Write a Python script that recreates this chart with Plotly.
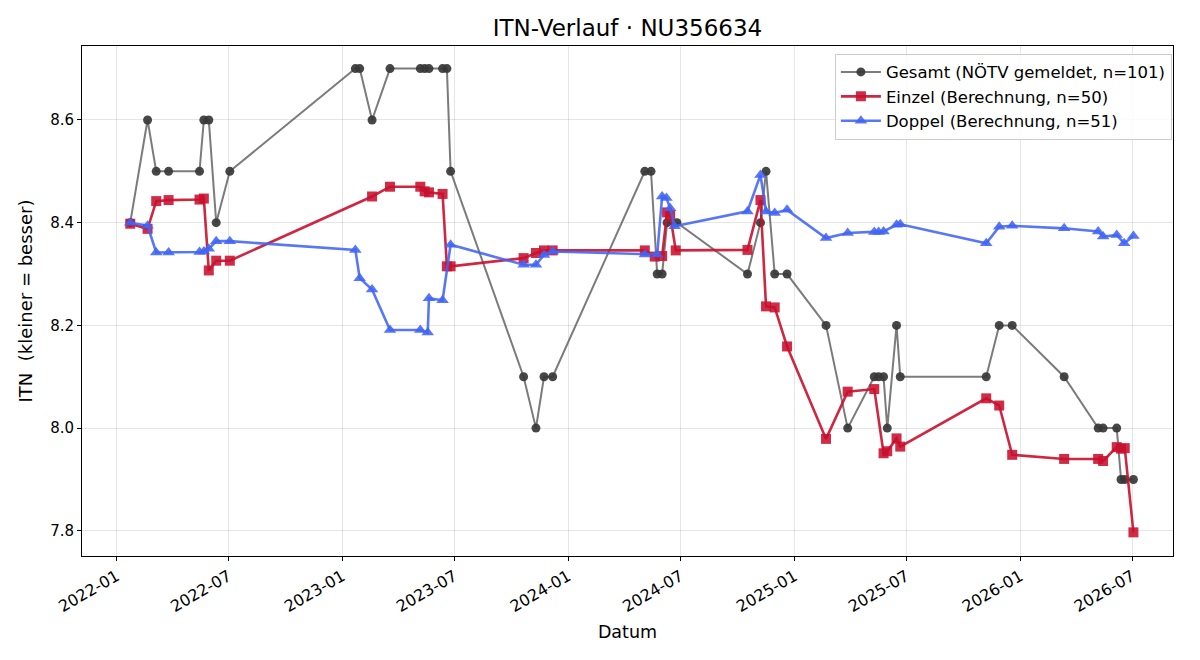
import plotly.graph_objects as go

# --- Data -------------------------------------------------------------
gesamt_dates = [
    "2022-01-23", "2022-02-20", "2022-03-06", "2022-03-26", "2022-05-15", "2022-05-22",
    "2022-05-30", "2022-06-11", "2022-07-03", "2023-01-22", "2023-01-29", "2023-02-18",
    "2023-03-19", "2023-05-07", "2023-05-14", "2023-05-21", "2023-06-12", "2023-06-19",
    "2023-06-25", "2023-10-21", "2023-11-10", "2023-11-23", "2023-12-07", "2024-05-04",
    "2024-05-14", "2024-05-24", "2024-06-01", "2024-06-09", "2024-06-25", "2024-10-17",
    "2024-11-07", "2024-11-16", "2024-11-30", "2024-12-20", "2025-02-21", "2025-03-28",
    "2025-05-10", "2025-05-17", "2025-05-25", "2025-05-31", "2025-06-15", "2025-06-21",
    "2025-11-07", "2025-11-28", "2025-12-19", "2026-03-13", "2026-05-07", "2026-05-15",
    "2026-06-06", "2026-06-13", "2026-06-19", "2026-07-03",
]
gesamt_vals = [
    8.4, 8.6, 8.5, 8.5, 8.5, 8.6,
    8.6, 8.4, 8.5, 8.7, 8.7, 8.6,
    8.7, 8.7, 8.7, 8.7, 8.7, 8.7,
    8.5, 8.1, 8.0, 8.1, 8.1, 8.5,
    8.5, 8.3, 8.3, 8.4, 8.4, 8.3,
    8.4, 8.5, 8.3, 8.3, 8.2, 8.0,
    8.1, 8.1, 8.1, 8.0, 8.2, 8.1,
    8.1, 8.2, 8.2, 8.1, 8.0, 8.0,
    8.0, 7.9, 7.9, 7.9,
]

einzel_dates = [
    "2022-01-23", "2022-02-20", "2022-03-06", "2022-03-26", "2022-05-15", "2022-05-22",
    "2022-05-30", "2022-06-11", "2022-07-03", "2023-02-18", "2023-03-19", "2023-05-07",
    "2023-05-14", "2023-05-21", "2023-06-12", "2023-06-19", "2023-06-25", "2023-10-21",
    "2023-11-10", "2023-11-23", "2023-12-07", "2024-05-04", "2024-05-20", "2024-06-01",
    "2024-06-09", "2024-06-14", "2024-06-23", "2024-10-17", "2024-11-07", "2024-11-16",
    "2024-11-30", "2024-12-20", "2025-02-21", "2025-03-28", "2025-05-10", "2025-05-25",
    "2025-05-31", "2025-06-15", "2025-06-21", "2025-11-07", "2025-11-28", "2025-12-19",
    "2026-03-13", "2026-05-07", "2026-05-15", "2026-06-06", "2026-06-13", "2026-06-19",
    "2026-07-03",
]
einzel_vals = [
    8.398, 8.388, 8.442, 8.444, 8.445, 8.447,
    8.307, 8.326, 8.326, 8.451, 8.470, 8.470,
    8.461, 8.459, 8.456, 8.315, 8.315, 8.331,
    8.341, 8.346, 8.346, 8.346, 8.334, 8.335,
    8.420, 8.415, 8.346, 8.347, 8.444, 8.237,
    8.235, 8.159, 7.979, 8.071, 8.076, 7.951,
    7.955, 7.980, 7.964, 8.058, 8.044, 7.948,
    7.940, 7.940, 7.936, 7.963, 7.960, 7.961,
    7.797,
]

doppel_dates = [
    "2022-01-23", "2022-02-20", "2022-03-06", "2022-03-26", "2022-05-15", "2022-05-22",
    "2022-05-30", "2022-06-11", "2022-07-03", "2023-01-22", "2023-01-29", "2023-02-18",
    "2023-03-19", "2023-05-07", "2023-05-19", "2023-05-21", "2023-06-12", "2023-06-25",
    "2023-10-21", "2023-11-10", "2023-11-23", "2023-12-07", "2024-05-04", "2024-05-24",
    "2024-06-01", "2024-06-08", "2024-06-14", "2024-06-21", "2024-10-17", "2024-11-07",
    "2024-11-16", "2024-11-30", "2024-12-20", "2025-02-21", "2025-03-28", "2025-05-10",
    "2025-05-17", "2025-05-25", "2025-06-15", "2025-06-21", "2025-11-07", "2025-11-28",
    "2025-12-19", "2026-03-13", "2026-05-07", "2026-05-15", "2026-06-06", "2026-06-18",
    "2026-07-03",
]
doppel_vals = [
    8.400, 8.394, 8.342, 8.342, 8.343, 8.344,
    8.349, 8.364, 8.364, 8.347, 8.292, 8.270,
    8.191, 8.191, 8.186, 8.253, 8.249, 8.357,
    8.318, 8.318, 8.337, 8.344, 8.338, 8.338,
    8.451, 8.448, 8.428, 8.393, 8.422, 8.493,
    8.422, 8.419, 8.425, 8.370, 8.380, 8.382,
    8.382, 8.383, 8.396, 8.397, 8.360, 8.392,
    8.394, 8.389, 8.383, 8.373, 8.376, 8.360,
    8.374,
]

y_ticks = [7.8, 8.0, 8.2, 8.4, 8.6]
x_ticks = ["2022-01-01", "2022-07-01", "2023-01-01", "2023-07-01", "2024-01-01",
           "2024-07-01", "2025-01-01", "2025-07-01", "2026-01-01", "2026-07-01"]
x_tick_labels = ["2022-01", "2022-07", "2023-01", "2023-07", "2024-01",
                 "2024-07", "2025-01", "2025-07", "2026-01", "2026-07"]

FONT = "DejaVu Sans"

fig = go.Figure()
fig.add_trace(go.Scatter(
    x=gesamt_dates, y=gesamt_vals, mode="lines+markers",
    name="Gesamt (NÖTV gemeldet, n=101)",
    line=dict(color="rgba(90,90,90,0.8)", width=2),
    marker=dict(symbol="circle", size=9, color="rgba(55,55,55,0.92)"),
))
fig.add_trace(go.Scatter(
    x=einzel_dates, y=einzel_vals, mode="lines+markers",
    name="Einzel (Berechnung, n=50)",
    line=dict(color="rgba(200,16,46,0.9)", width=2.6),
    marker=dict(symbol="square", size=10, color="rgba(200,16,46,0.88)"),
))
fig.add_trace(go.Scatter(
    x=doppel_dates, y=doppel_vals, mode="lines+markers",
    name="Doppel (Berechnung, n=51)",
    line=dict(color="rgba(65,100,245,0.88)", width=2.6),
    marker=dict(symbol="triangle-up", size=11, color="rgba(65,100,245,0.88)"),
))

fig.update_layout(
    width=1200, height=660,
    margin=dict(l=82, r=27, t=46, b=104),
    paper_bgcolor="white", plot_bgcolor="white",
    font=dict(family=FONT, size=14, color="black"),
    title=dict(text="ITN-Verlauf · NU356634", x=0.5, xanchor="center", xref="paper",
               y=1 - 28 / 660, yanchor="middle", font=dict(family=FONT, size=23, color="black")),
    legend=dict(x=0.999, y=0.985, xanchor="right", yanchor="top",
                bgcolor="rgba(255,255,255,0.85)", bordercolor="#cccccc", borderwidth=1,
                font=dict(family=FONT, size=16.5), tracegroupgap=0, itemwidth=40),
    showlegend=True,
)
fig.update_xaxes(
    type="date", range=["2021-11-06", "2026-09-05"],
    tickmode="array", tickvals=x_ticks, ticktext=x_tick_labels, tickangle=-30,
    ticks="outside", ticklen=4, tickcolor="black", tickfont=dict(size=16),
    showgrid=True, gridcolor="rgba(0,0,0,0.1)", gridwidth=1,
    showline=True, linecolor="black", linewidth=1, mirror=True, zeroline=False,
    title=dict(text="Datum", font=dict(size=17.5), standoff=10),
)
fig.update_yaxes(
    range=[7.751, 8.744], tickmode="array", tickvals=y_ticks,
    ticktext=[f"{v:.1f}" for v in y_ticks],
    ticks="outside", ticklen=4, tickcolor="black", tickfont=dict(size=15),
    showgrid=True, gridcolor="rgba(0,0,0,0.1)", gridwidth=1,
    showline=True, linecolor="black", linewidth=1, mirror=True, zeroline=False,
    title=dict(text="ITN\u00a0 (kleiner = besser)", font=dict(size=18), standoff=12),
)

fig.write_html("out.html")
